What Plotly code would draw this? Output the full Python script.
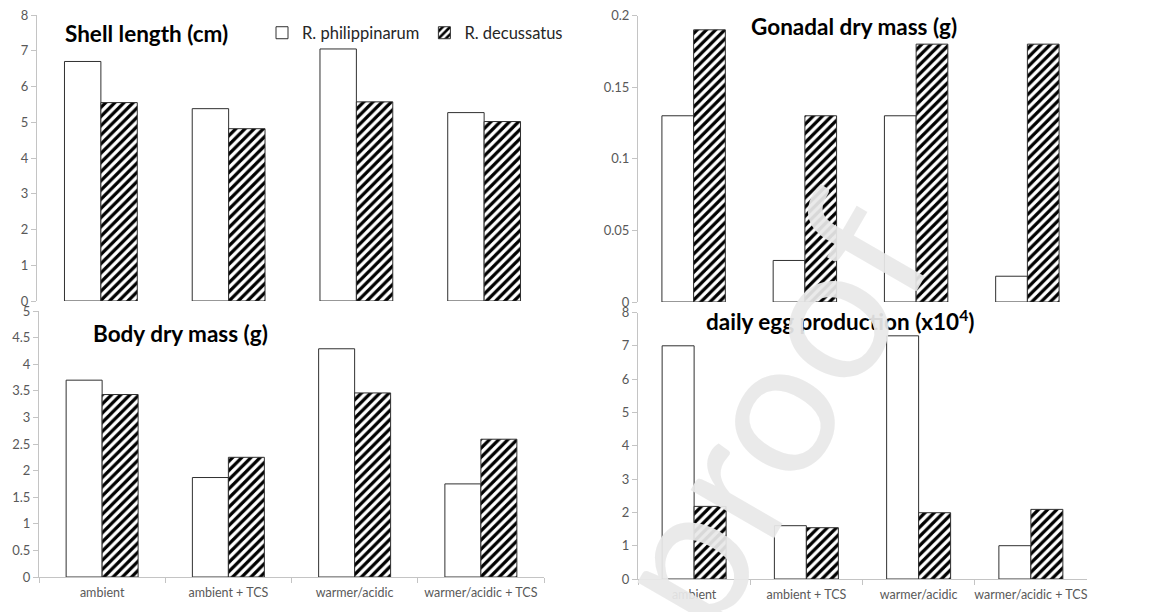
import plotly.graph_objects as go

W, H = 1150, 612

categories = ["ambient", "ambient + TCS", "warmer/acidic", "warmer/acidic + TCS"]
series_names = ["R. philippinarum", "R. decussatus"]

shell_phil = [6.70, 5.38, 7.05, 5.27]
shell_dec = [5.55, 4.82, 5.57, 5.02]

gonad_phil = [0.13, 0.029, 0.13, 0.018]
gonad_dec = [0.19, 0.13, 0.18, 0.18]

body_phil = [3.70, 1.87, 4.29, 1.75]
body_dec = [3.43, 2.25, 3.46, 2.59]

egg_phil = [7.0, 1.6, 7.3, 1.0]
egg_dec = [2.18, 1.54, 1.99, 2.09]

panel_titles = ["Shell length (cm)", "Gonadal dry mass (g)", "Body dry mass (g)",
                "daily egg production (x10<sup>4</sup>)"]

y_ticks_shell = [0, 1, 2, 3, 4, 5, 6, 7, 8]
y_ticks_gonad = [0, 0.05, 0.1, 0.15, 0.2]
y_ticks_body = [0, 0.5, 1, 1.5, 2, 2.5, 3, 3.5, 4, 4.5, 5]
y_ticks_egg = [0, 1, 2, 3, 4, 5, 6, 7, 8]
y_ticktext_body = ["0", "0.5", "1", "1.5", "2", "2.5", "3", "3.5", "4", "4.5", "5"]

FONT = "Lato, 'Open Sans', sans-serif"
YTICKFONT = dict(family=FONT, size=13, color="#595959")
XTICKFONT = dict(family=FONT, size=12.5, color="#595959")
AXCOL = "#c4c4c4"


def px_x(x):
    return x / W


def px_y(y):
    return 1 - y / H


fig = go.Figure()

panels = [
    (shell_phil, shell_dec, "x", "y", (37, 548), (15, 301), [0, 8], y_ticks_shell, False),
    (gonad_phil, gonad_dec, "x2", "y2", (638, 1083), (15.5, 302), [0, 0.2], y_ticks_gonad, False),
    (body_phil, body_dec, "x3", "y3", (39, 544), (311, 577), [0, 5], y_ticks_body, True),
    (egg_phil, egg_dec, "x4", "y4", (638, 1087), (312.5, 579), [0, 8], y_ticks_egg, True),
]

for i, (phil, dec, xa, ya, xd, yd, rng, ticks, showx) in enumerate(panels):
    fig.add_trace(go.Bar(
        x=categories, y=phil, name=series_names[0], xaxis=xa, yaxis=ya,
        marker=dict(color="white", line=dict(color="#303030", width=1)),
        showlegend=(i == 0), legendgroup="phil",
    ))
    fig.add_trace(go.Bar(
        x=categories, y=dec, name=series_names[1], xaxis=xa, yaxis=ya,
        marker=dict(color="white", line=dict(color="#303030", width=1),
                    pattern=dict(shape="/", fgcolor="black", bgcolor="white",
                                 fgopacity=1, size=6.5, solidity=0.5)),
        showlegend=(i == 0), legendgroup="dec",
    ))
    xkey = "xaxis" if xa == "x" else "xaxis" + xa[1:]
    ykey = "yaxis" if ya == "y" else "yaxis" + ya[1:]
    xaxis = dict(domain=[px_x(xd[0]), px_x(xd[1])], anchor=ya, type="category",
                 showgrid=False, zeroline=False, fixedrange=True, automargin=False,
                 tickangle=0)
    if showx:
        xaxis.update(showline=True, linecolor=AXCOL, linewidth=1, ticks="outside",
                     tickson="boundaries", ticklen=5, tickcolor=AXCOL,
                     tickfont=XTICKFONT, ticklabelstandoff=4)
    else:
        xaxis.update(showline=False, showticklabels=False, ticks="")
    yaxis = dict(domain=[px_y(yd[1]), px_y(yd[0])], anchor=xa, range=rng,
                 tickmode="array", tickvals=ticks, automargin=False,
                 showline=True, linecolor=AXCOL, linewidth=1, ticks="outside",
                 ticklen=5, tickcolor=AXCOL, tickfont=YTICKFONT,
                 showgrid=False, zeroline=False, fixedrange=True)
    if ya == "y3":
        yaxis["ticktext"] = y_ticktext_body
    fig.layout[xkey] = xaxis
    fig.layout[ykey] = yaxis

TITLEFONT = dict(family=FONT, size=22.5, color="black")
title_pos = [(146, 33), (854, 27), (180, 333), (840, 320)]
for t, (cx, cy) in zip(panel_titles, title_pos):
    fig.add_annotation(text="<b>%s</b>" % t, x=px_x(cx), y=px_y(cy), xref="paper",
                       yref="paper", showarrow=False, font=TITLEFONT,
                       xanchor="center", yanchor="middle")

# faint watermark
fig.add_annotation(text="-proof", x=px_x(745), y=px_y(440), xref="paper", yref="paper",
                   showarrow=False, textangle=-60,
                   font=dict(family="Lato, sans-serif", size=190, color="rgba(232,232,232,0.93)"),
                   xanchor="center", yanchor="middle")

fig.update_layout(
    width=W, height=H, margin=dict(l=0, r=0, t=0, b=0, autoexpand=False),
    paper_bgcolor="white", plot_bgcolor="white",
    barmode="group", bargap=0.43, bargroupgap=0,
    showlegend=True,
    legend=dict(orientation="h", x=px_x(262), y=px_y(33), xanchor="left", yanchor="middle",
                font=dict(family=FONT, size=16.5, color="#262626"),
                bgcolor="rgba(0,0,0,0)", itemwidth=30, tracegroupgap=0),
)

fig.write_html("out.html", config={"displayModeBar": False},
               post_script="document.body.style.margin='0';document.body.style.overflow='hidden';")
